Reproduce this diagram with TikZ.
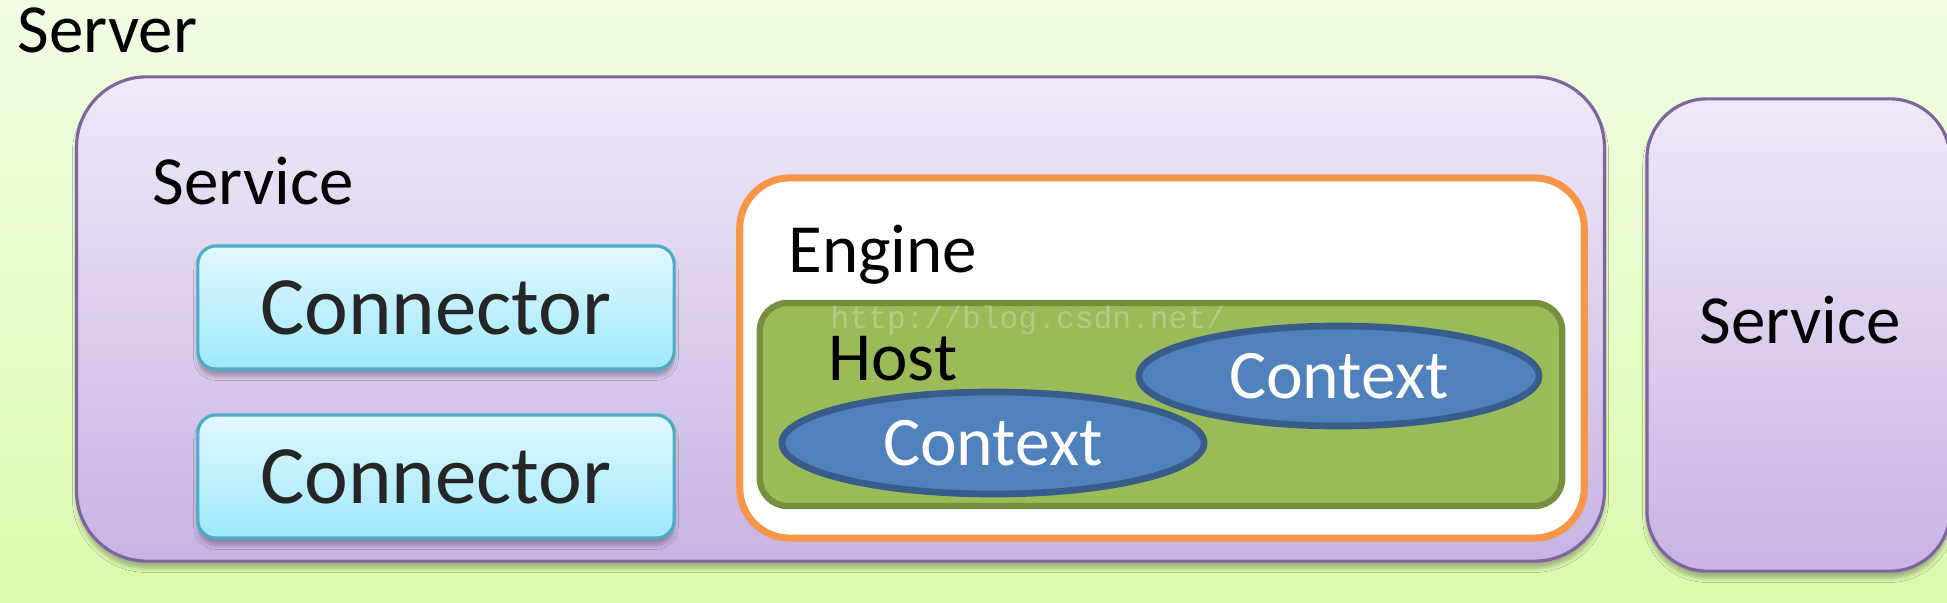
\documentclass[tikz,border=0pt]{standalone}
\usepackage{fontspec}
\setmainfont{Carlito}
\newfontfamily\markfont{Liberation Mono}
\usetikzlibrary{shapes.geometric,shadows.blur}

\definecolor{bgtop}{RGB}{241,252,228}
\definecolor{bgbot}{RGB}{219,250,172}
\definecolor{svctop}{RGB}{239,233,248}
\definecolor{svcbot}{RGB}{199,180,227}
\definecolor{svcline}{RGB}{128,100,162}
\definecolor{contop}{RGB}{226,248,255}
\definecolor{conbot}{RGB}{158,232,251}
\definecolor{conline}{RGB}{75,172,198}
\definecolor{engline}{RGB}{247,150,70}
\definecolor{hostfill}{RGB}{155,187,89}
\definecolor{hostline}{RGB}{116,143,61}
\definecolor{ctxfill}{RGB}{79,129,189}
\definecolor{ctxline}{RGB}{56,93,138}

\begin{document}
\begin{tikzpicture}
	[x=0.01cm,y=-0.01cm,
	 softshadow/.style={blur shadow={shadow xshift=0pt,shadow yshift=-2pt,shadow blur radius=1.2pt,shadow opacity=28}},
	 servicebox/.style={rectangle,draw=svcline,line width=0.9pt,top color=svctop,bottom color=svcbot,softshadow,inner sep=0pt},
	 connbox/.style={rectangle,draw=conline,line width=0.9pt,top color=contop,bottom color=conbot,softshadow,rounded corners=0.18cm,
	                 minimum width=4.76cm,minimum height=1.23cm,text=black!85,font=\fontsize{23.6}{26}\selectfont},
	 enginebox/.style={rectangle,draw=engline,line width=2pt,fill=white,rounded corners=0.5cm,minimum width=8.44cm,minimum height=3.6cm},
	 hostbox/.style={rectangle,draw=hostline,line width=1.8pt,fill=hostfill,rounded corners=0.28cm,minimum width=8.02cm,minimum height=2.03cm},
	 ctx/.style={ellipse,draw=ctxline,line width=1.9pt,fill=ctxfill,text=white,inner sep=0pt,font=\fontsize{19.8}{22}\selectfont},
	 boxtitle/.style={inner sep=0pt,anchor=base west,font=\fontsize{19.6}{22}\selectfont}]

	\path[use as bounding box] (0,0) rectangle (1947,603);
	\clip (0,0) rectangle (1947,603);
	\fill[top color=bgtop,bottom color=bgbot] (0,0) rectangle (1947,603);

	\node[boxtitle] (server) at (17,53) {Server};

	\node[servicebox,rounded corners=0.7cm,minimum width=15.27cm,minimum height=4.84cm] (service) at (840.5,319) {};
	\node[boxtitle] (svclabel) at (152,204) {Service};
	\node[connbox] (conn1) at (436,307.5) {Connector};
	\node[connbox] (conn2) at (436,476.5) {Connector};

	\node[enginebox] (engine) at (1162,358) {};
	\node[boxtitle] (enginelabel) at (788,272) {Engine};
	\node[hostbox] (host) at (1161,404.5) {};
	\node[inner sep=0pt,anchor=base west,text=white,opacity=0.25,font=\markfont\fontsize{8.9}{10}\selectfont] (mark) at (830,328) {http://blog.csdn.net/};
	\node[boxtitle] (hostlabel) at (828,380) {Host};
	\node[ctx,minimum width=4.22cm,minimum height=1.02cm] (ctx2) at (993,443) {Context};
	\node[ctx,minimum width=4.0cm,minimum height=1.0cm] (ctx1) at (1339,376) {Context};

	\node[servicebox,rounded corners=0.6cm,minimum width=3.03cm,minimum height=4.72cm] (service2) at (1798.5,335) {};
	\node[inner sep=0pt,font=\fontsize{19.6}{22}\selectfont] (svc2label) at (1800,320) {Service};

\end{tikzpicture}
\end{document}
